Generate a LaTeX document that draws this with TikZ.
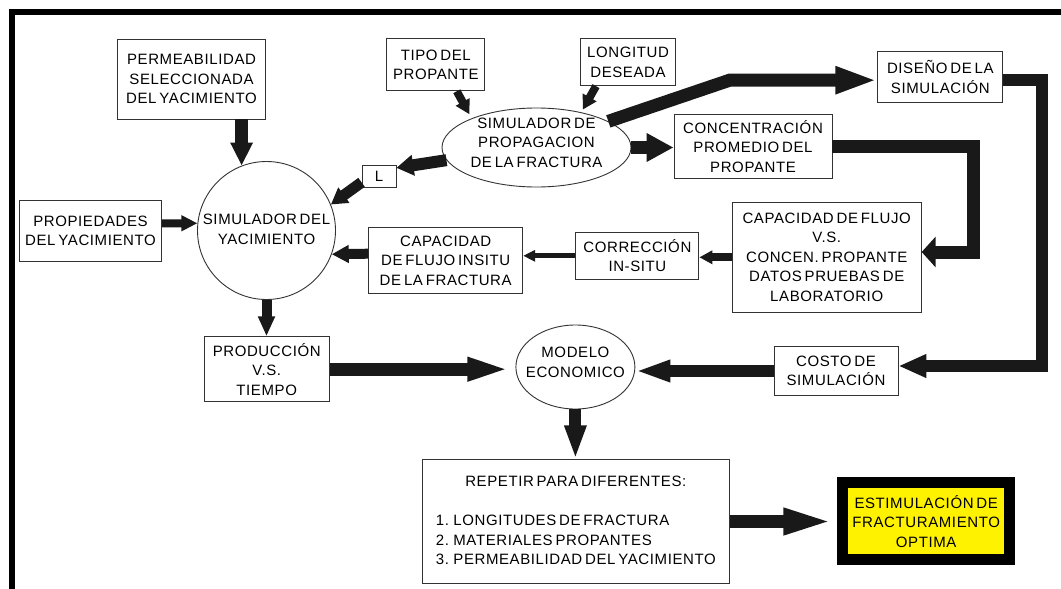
\documentclass[tikz,border=0pt]{standalone}
\usepackage{fontspec}
\setmainfont{Liberation Sans}[LetterSpace=4,WordSpace=0.6]
\usetikzlibrary{arrows.meta,shapes.geometric}
\definecolor{estimyellow}{RGB}{255,242,0}
\newcommand\dfont{\fontsize{15}{19.5}\selectfont}
\newcommand\ovaltext[1]{\smash{\makebox[0pt]{\begin{tabular}{@{}c@{}}#1\end{tabular}}}}
\begin{document}
\begin{tikzpicture}[x=1pt,y=-1pt,
  every node/.style={font=\dfont, text=black, inner sep=0pt},
  box/.style={draw=black!80, line width=0.9pt, align=center},
  plainbox/.style={draw=black!80, line width=0.9pt},
  oval/.style={draw=black!80, line width=0.9pt, ellipse},
  roundnode/.style={draw=black!80, line width=0.9pt, circle},
  arr/.style n args={3}{line width=#1, draw=black!90, line join=miter, -{Triangle[length=#2,width=#3]}}]
\useasboundingbox (0,0) rectangle (1061,589);
\fill[white] (0,0) rectangle (1061,589);
% frame
\draw[line width=6pt, line join=miter] (12,600) -- (12,12) -- (1075,12);
% nodes
\node[box, minimum width=148pt, minimum height=80pt] (perm) at (191.5,79) {PERMEABILIDAD\\SELECCIONADA\\DEL YACIMIENTO};
\node[box, minimum width=98pt, minimum height=52pt] (tipo) at (435.8,64.8) {TIPO DEL\\PROPANTE};
\node[box, minimum width=95pt, minimum height=47pt] (longi) at (628,62.2) {LONGITUD\\DESEADA};
\node[box, minimum width=125pt, minimum height=51pt] (diseno) at (940.3,76.8) {DISEÑO DE LA\\SIMULACIÓN};
\node[oval, minimum width=189pt, minimum height=79pt] (prop) at (536.5,147.5) {\ovaltext{SIMULADOR DE\\PROPAGACION\\DE LA FRACTURA}};
\node[box, minimum width=34pt, minimum height=22pt] (L) at (379,176) {L};
\node[box, minimum width=158pt, minimum height=64pt] (conc) at (753,146.5) {CONCENTRACIÓN\\PROMEDIO DEL\\PROPANTE};
\node[roundnode, minimum size=138pt] (circ) at (266.5,230.5) {\raisebox{-7pt}{\ovaltext{SIMULADOR DEL\\YACIMIENTO}}};
\node[box, minimum width=142pt, minimum height=61pt] (props) at (90.5,231) {PROPIEDADES\\DEL YACIMIENTO};
\node[box, minimum width=154pt, minimum height=66pt] (insitu) at (445.7,260.5) {CAPACIDAD\\DE FLUJO INSITU\\DE LA FRACTURA};
\node[box, minimum width=123pt, minimum height=47pt] (corr) at (637.4,255.8) {CORRECCIÓN\\IN-SITU};
\node[box, minimum width=189pt, minimum height=110pt] (capvs) at (826.7,257.3) {CAPACIDAD DE FLUJO\\V.S.\\CONCEN. PROPANTE\\DATOS PRUEBAS DE\\LABORATORIO};
\node[box, minimum width=125pt, minimum height=65pt] (prod) at (266.7,369.2) {PRODUCCIÓN\\V.S.\\TIEMPO};
\node[oval, minimum width=119pt, minimum height=84pt] (modelo) at (575.4,367) {\ovaltext{MODELO\\ECONOMICO}};
\node[box, minimum width=124pt, minimum height=49pt] (costo) at (836,371) {COSTO DE\\SIMULACIÓN};
\node[plainbox, minimum width=307pt, minimum height=123.5pt] (repetir) at (575.8,521.5) {\begin{tabular}{@{}l@{}}\multicolumn{1}{@{}c@{}}{REPETIR PARA DIFERENTES:}\\[20pt]1. LONGITUDES DE FRACTURA\\2. MATERIALES PROPANTES\\3. PERMEABILIDAD DEL YACIMIENTO\end{tabular}};
\node[draw=black, line width=11pt, fill=estimyellow, align=center, minimum width=166.7pt, minimum height=76.7pt] (estim) at (926.2,521.2) {ESTIMULACIÓN DE\\FRACTURAMIENTO\\OPTIMA};
% helper coordinates
\coordinate (k1) at (729.6,80.2);
\coordinate (k2) at (1042,80.2);
\coordinate (k4) at (1042,366);
\coordinate (k3) at (973.5,146.5);
\coordinate (k5) at (973.5,252);
% connectors
\draw[arr={13pt}{23pt}{21pt}] (perm.south -| circ.111) -- (circ.111);
\draw[arr={8pt}{14pt}{15pt}] ([xshift=21pt]tipo.south) -- ([yshift=5pt]prop.north west);
\draw[arr={8pt}{14pt}{15pt}] ([xshift=-32pt]longi.south) -- ([yshift=3pt]prop.37);
\draw[arr={12pt}{17pt}{20pt}] (prop.188) -- (L.25);
\draw[arr={11pt}{16pt}{18pt}] (L.200) -- (circ.22);
\draw[arr={8pt}{16pt}{15pt}] ([yshift=7.7pt]props.east) -- (circ.174);
\draw[arr={10pt}{17pt}{17pt}] ([yshift=6.8pt]insitu.west) -- (circ.-20);
\draw[arr={5pt}{12pt}{11pt}] (corr.west) -- (corr.west -| insitu.east);
\draw[arr={8pt}{13pt}{13pt}] (capvs.west) -- (capvs.west -| corr.east);
\draw[arr={13pt}{27pt}{27pt}] (prop.east) -- (prop.east -| conc.west);
\draw[arr={13pt}{42pt}{25pt}] (prop.20) -- (k1) -- (k1 -| diseno.west);
\draw[arr={12pt}{28pt}{22pt}] (k1 -| diseno.east) -- (k2) -- (k4) -- (k4 -| costo.east);
\draw[arr={13pt}{14pt}{30pt}] (conc.east) -- (k3) -- (k5) -- (k5 -| capvs.east);
\draw[arr={10pt}{20pt}{16pt}] (circ.south) -- (circ.south |- prod.north);
\draw[arr={13pt}{48pt}{20pt}] (prod.east) -- (prod.east -| modelo.west);
\draw[arr={12pt}{35pt}{20pt}] (costo.west) -- (costo.west -| modelo.east);
\draw[arr={12pt}{34pt}{20pt}] (modelo.south) -- (modelo.south |- repetir.north);
\draw[arr={13pt}{54pt}{23pt}] (repetir.east) -- (repetir.east -| estim.west);
\end{tikzpicture}
\end{document}
